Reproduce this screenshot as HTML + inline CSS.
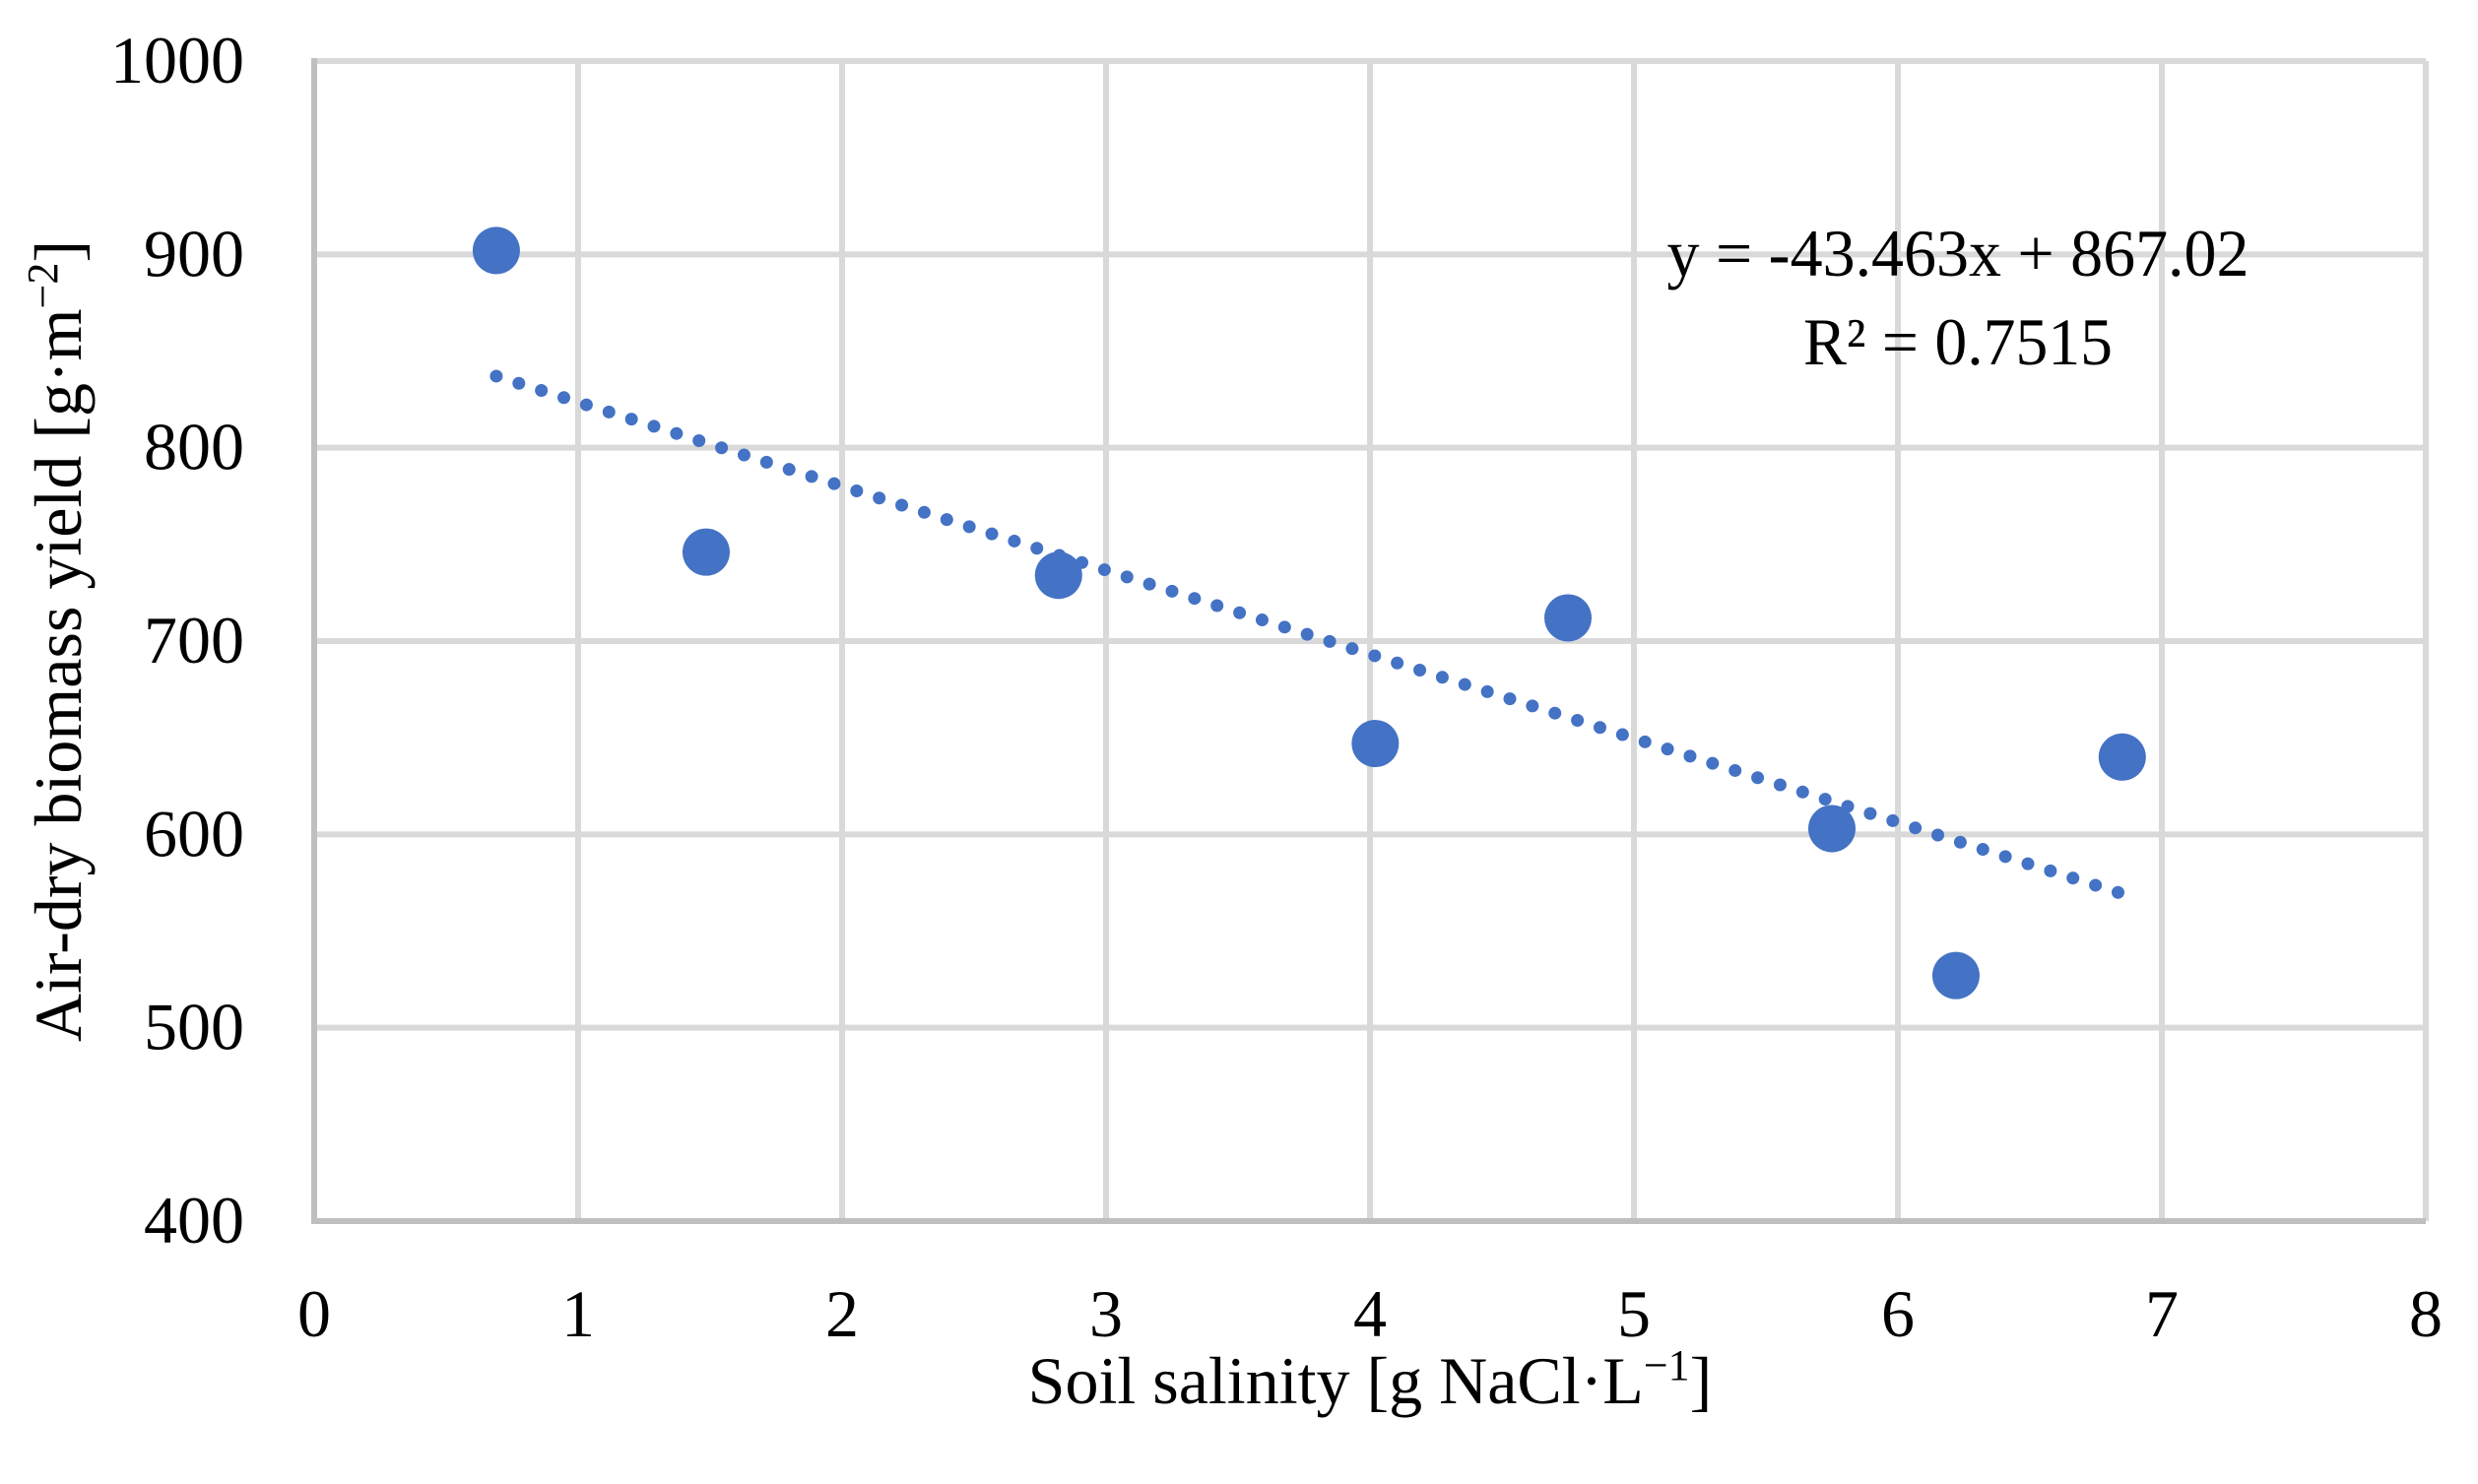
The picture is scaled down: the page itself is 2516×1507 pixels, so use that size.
<!DOCTYPE html>
<html><head><meta charset="utf-8"><style>
html,body{margin:0;padding:0;background:#fff;}
svg{display:block;font-family:"Liberation Serif",serif;}
</style></head><body>
<svg id="chart" width="2516" height="1507" viewBox="0 0 2516 1507">
<g id="grid"></g>
<g id="axes"></g>
<g id="ticks"></g>
<path id="trend" fill="none" stroke="#4472C4" stroke-width="13" stroke-linecap="round" stroke-dasharray="0 24"></path>
<g id="points"></g>
<text x="1988" y="280" font-size="68" text-anchor="middle" textLength="591" lengthAdjust="spacingAndGlyphs">y = -43.463x + 867.02</text>
<text x="1988" y="370" font-size="68" text-anchor="middle" textLength="314" lengthAdjust="spacingAndGlyphs">R² = 0.7515</text>
<text x="1391" y="1425" font-size="68" text-anchor="middle">Soil salinity [g NaCl·L<tspan dy="-24" font-size="44">−1</tspan><tspan dy="24">]</tspan></text>
<text transform="translate(82,651) rotate(-90)" font-size="68" text-anchor="middle">Air-dry biomass yield [g·m<tspan dy="-24" font-size="44">−2</tspan><tspan dy="24">]</tspan></text>
</svg>
<script>
const xTicks = [0,1,2,3,4,5,6,7,8];
const yTicks = [400,500,600,700,800,900,1000];
const salinity = [0.69,1.485,2.82,4.02,4.75,5.75,6.22,6.85];
const yieldVals = [902,746,734,647,712,603,527,640];
const trendSlope = -43.463;
const trendIntercept = 867.02;

const NS = "http://www.w3.org/2000/svg";
const X0=319, X1=2463, Y0=1240, Y1=62;
const xs = v => X0 + (v-0)/(8-0)*(X1-X0);
const ys = v => Y0 - (v-400)/(1000-400)*(Y0-Y1);
function mk(tag, attrs, parent){const e=document.createElementNS(NS,tag);for(const k in attrs)e.setAttribute(k,attrs[k]);parent.appendChild(e);return e;}
const grid=document.getElementById('grid'), ticks=document.getElementById('ticks'), axes=document.getElementById('axes');
yTicks.forEach(t=>{
  if(t>400){const l=mk('line',{x1:X0,x2:X1,y1:ys(t),y2:ys(t),stroke:'#d9d9d9','stroke-width':6},grid);
  
  }
  const tx=mk('text',{x:248,y:ys(t)+22,'font-size':68,'text-anchor':'end'},ticks);
  tx.textContent=t;
  
  
});
xTicks.forEach(t=>{
  if(t>0){const l=mk('line',{x1:xs(t),x2:xs(t),y1:Y1,y2:Y0,stroke:'#d9d9d9','stroke-width':6},grid);
  
  }
  const tx=mk('text',{x:xs(t),y:1357,'font-size':68,'text-anchor':'middle'},ticks);
  tx.textContent=t;
  
  
});
const ya=mk('line',{x1:X0,x2:X0,y1:Y1-3,y2:Y0+3,stroke:'#bfbfbf','stroke-width':6},axes);


const xa=mk('line',{x1:X0-3,x2:X1,y1:Y0,y2:Y0,stroke:'#bfbfbf','stroke-width':6},axes);


const xmin=Math.min(...salinity), xmax=Math.max(...salinity);
document.getElementById('trend').setAttribute('d',
  `M${xs(xmin)},${ys(trendSlope*xmin+trendIntercept)} L${xs(xmax)},${ys(trendSlope*xmax+trendIntercept)}`);
const pts=document.getElementById('points');
salinity.forEach((x,i)=>{
  const c=mk('circle',{cx:xs(x),cy:ys(yieldVals[i]),r:24,fill:'#4472C4'},pts);
  
  
});
</script>
</body></html>
